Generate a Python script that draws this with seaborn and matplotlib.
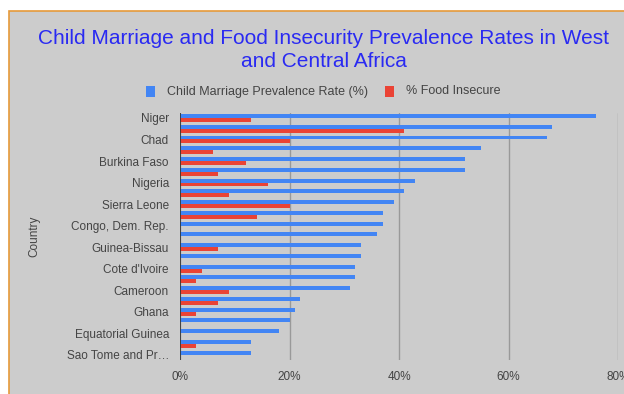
import matplotlib
matplotlib.use("Agg")
import matplotlib.pyplot as plt
import seaborn as sns
import pandas as pd
from matplotlib.patches import Rectangle
from matplotlib.ticker import FuncFormatter

countries = ["Niger", "Central African Republic", "Chad", "Mali", "Burkina Faso", "Guinea",
             "Nigeria", "Mauritania", "Sierra Leone", "Liberia", "Congo, Dem. Rep.", "Gambia",
             "Guinea-Bissau", "Benin", "Cote d'Ivoire", "Senegal", "Cameroon", "Congo, Rep.",
             "Ghana", "Togo", "Equatorial Guinea", "Gabon", "Sao Tome and Pr\u2026"]
child_marriage = [76, 68, 67, 55, 52, 52, 43, 41, 39, 37, 37, 36,
                  33, 33, 32, 32, 31, 22, 21, 20, 18, 13, 13]
food_insecure = [13, 41, 20, 6, 12, 7, 16, 9, 20, 14, 0, 0,
                 7, 0, 4, 3, 9, 7, 3, 0, 0, 3, 0]
series_names = ["Child Marriage Prevalence Rate (%)", "% Food Insecure"]
x_ticks = [0, 20, 40, 60, 80]

df = pd.DataFrame({
    "Country": countries * 2,
    "Value": child_marriage + food_insecure,
    "Series": [series_names[0]] * len(countries) + [series_names[1]] * len(countries),
})

sns.set_theme(style="white")
plt.rcParams["font.family"] = ["Liberation Sans", "DejaVu Sans"]

W, H = 624, 394
fig = plt.figure(figsize=(W / 100, H / 100), dpi=100)
fig.patch.set_facecolor("white")
bg = "#cccccc"
fig.patches.append(Rectangle((9 / W, -0.1), 1.2, 1.1 - 11 / H, transform=fig.transFigure,
                             facecolor=bg, edgecolor="#e69a3a", linewidth=1.2, zorder=-5))

ax = fig.add_axes([180 / W, 1 - 360 / H, (618 - 180) / W, (360 - 112.6) / H])
ax.set_facecolor(bg)
ax.set_zorder(2)

sns.barplot(data=df, y="Country", x="Value", hue="Series", orient="h",
            palette=["#4285f4", "#ea4335"], width=0.74, ax=ax, legend=False,
            order=countries, hue_order=series_names, saturation=1, linewidth=0)

ax.set_xlim(0, 80)
ax.set_ylim(len(countries) - 0.5, -0.5)
ax.set_xticks(x_ticks)
ax.xaxis.set_major_formatter(FuncFormatter(lambda v, p: f"{int(v)}%"))
ax.set_yticks(range(0, len(countries), 2))
ax.set_yticklabels(countries[::2])
ax.tick_params(axis="both", length=0, labelsize=8.5, colors="#444444")
ax.tick_params(axis="y", pad=8)
ax.tick_params(axis="x", pad=8)
ax.grid(axis="x", color="#999999", linewidth=1)
ax.set_axisbelow(True)
for s in ax.spines.values():
    s.set_visible(False)
ax.axvline(0, color="#333333", linewidth=1.2, zorder=3)
ax.set_xlabel("")
ax.set_ylabel("Country", fontsize=8.5, color="#444444", labelpad=0)
ax.yaxis.set_label_coords((40 - 180) / (618 - 180), 0.5)
for lbl in ax.get_xticklabels():
    lbl.set_clip_on(False)

fig.text(324 / W, 1 - 67 / H, "Child Marriage and Food Insecurity Prevalence Rates in West\nand Central Africa",
         ha="center", va="baseline", fontsize=15, color="#2a2af2", linespacing=1.25, zorder=5)

# legend
for (x0, name, col) in [(146, series_names[0], "#4285f4"), (385, series_names[1], "#ea4335")]:
    fig.patches.append(Rectangle((x0 / W, 1 - 97 / H), 9 / W, 11 / H, transform=fig.transFigure,
                                 facecolor=col, edgecolor="none", zorder=5))
    fig.text((x0 + 21) / W, 1 - 91.5 / H, name, ha="left", va="center", fontsize=9,
             color="#444444", zorder=5)

fig.savefig("out.png", dpi=100)
